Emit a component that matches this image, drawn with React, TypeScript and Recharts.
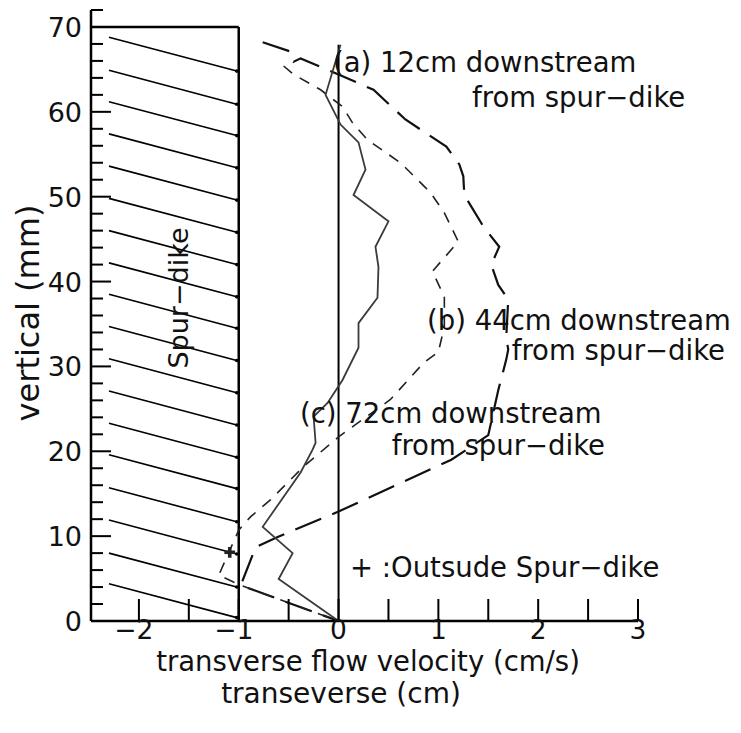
import React from "react";
import {
  ComposedChart,
  Line,
  XAxis,
  YAxis,
  ReferenceLine,
  ReferenceDot,
  Scatter,
} from "recharts";

// ---- tick values ----
const velocityTicks = [-2, -1.5, -1, -0.5, 0, 0.5, 1, 1.5, 2, 2.5, 3];
const velocityLabels = ["−2", "", "−1", "", "0", "", "1", "", "2", "", "3"];
const verticalTicks = [0, 2, 4, 6, 8, 10, 12, 14, 16, 18, 20, 22, 24, 26, 28, 30, 32, 34, 36, 38, 40, 42, 44, 46, 48, 50, 52, 54, 56, 58, 60, 62, 64, 66, 68, 70, 72];
const verticalMajor = [0, 10, 20, 30, 40, 50, 60, 70];

// ---- profile (solid) ----
const solidVel = [0, -0.6, -0.46, -0.76, -0.38, -0.26, -0.23, -0.25, -0.11, 0.04, 0.2, 0.2, 0.39, 0.4, 0.37, 0.5, 0.15, 0.27, 0.2, 0.02, -0.13, 0.02];
const solidZ = [0, 4.95, 8.0, 11.1, 17.5, 20.2, 21.0, 24.1, 25.7, 28.4, 32.2, 35.1, 38.1, 41.7, 44.1, 47.1, 50.2, 53.2, 56.4, 58.5, 62.0, 67.9];

// ---- profile (long dash) ----
const longVel = [-0.76, -0.48, -0.45, -0.38, 0, 0.35, 0.67, 1.08, 1.21, 1.25, 1.26, 1.45, 1.61, 1.53, 1.6, 1.7, 1.68, 1.7, 1.68, 1.6, 1.5, 1.13, 0, -0.61, -0.83, -0.98, 0];
const longZ = [68.2, 67.1, 65.9, 66.3, 64.4, 62.6, 59.1, 55.9, 53.8, 52.4, 50.2, 46.5, 44.1, 42.0, 39.6, 37.9, 33.4, 32.0, 30.8, 27.2, 21.9, 19.0, 12.9, 9.9, 8.7, 4.2, 0];

// ---- profile (short dash) ----
const shortVel = [-0.55, -0.45, -0.18, 0.04, 0.14, 0.29, 0.62, 0.92, 1.06, 1.2, 0.94, 1.06, 1.06, 1.0, 0.85, 0.52, 0, -0.35, -0.68, -0.88, -1.0, -1.08, -1.2, -0.98, 0];
const shortZ = [65.4, 64.4, 62.6, 60.6, 58.7, 56.7, 54.0, 50.5, 48.1, 44.7, 41.2, 38.2, 34.7, 31.7, 30.4, 26.1, 21.7, 18.2, 14.3, 12.3, 10.7, 8.6, 5.4, 4.2, 0];

// ---- outside marker ----
const outsideVel = [-1.09];
const outsideZ = [8.1];

// ---- spur-dike structure ----
const velMin = -2.48;
const dikeFace = -1;
const dikeTop = 70;
const zeroLineTop = 67.9;
const hatchStartVel = -2.3;
const hatchEndVel = -1.02;
const hatchDrop = 4.0;
const hatchStartZ = [68.8, 64.9, 61.2, 57.4, 53.6, 49.8, 46.0, 42.2, 38.5, 34.7, 30.9, 27.1, 23.3, 19.6, 15.7, 11.9, 8.0, 4.4];

const toRows = (xs: number[], ys: number[]) => xs.map((x, i) => ({ x, z: ys[i] }));
const solidData = toRows(solidVel, solidZ);
const longData = toRows(longVel, longZ);
const shortData = toRows(shortVel, shortZ);
const outsideData = toRows(outsideVel, outsideZ);

const FONT = "DejaVu Sans";

const XTick = (props: any) => {
  const { x, y, payload } = props;
  const i = velocityTicks.indexOf(payload.value);
  const label = i >= 0 ? velocityLabels[i] : "";
  return (
    <g>
      <line x1={x} y1={y} x2={x} y2={y - 22} stroke="#000" strokeWidth={2} />
      {label !== "" && (
        <text x={x - (payload.value < 0 ? 5 : 0)} y={y + 18} textAnchor="middle" fontFamily={FONT} fontSize={26.5} fill="#111">
          {label}
        </text>
      )}
    </g>
  );
};

const YTick = (props: any) => {
  const { x, y, payload } = props;
  const major = verticalMajor.includes(payload.value);
  return (
    <g>
      <line x1={x} y1={y} x2={x + (major ? 20 : 12)} y2={y} stroke="#000" strokeWidth={2} />
      {major && (
        <text x={x - 9} y={y + 10} textAnchor="end" fontFamily={FONT} fontSize={27} fill="#111">
          {String(payload.value)}
        </text>
      )}
    </g>
  );
};

export default function App() {
  return (
    <div style={{ position: "absolute", left: 0, top: 0, width: 741, height: 733, background: "#fff" }}>
      <ComposedChart
        width={741}
        height={733}
        margin={{ top: 10, right: 103, bottom: 72, left: 31 }}
      >
        <XAxis
          type="number"
          dataKey="x"
          domain={[velMin, 3]}
          ticks={velocityTicks}
          allowDataOverflow
          height={40}
          tickSize={0}
          tickMargin={0}
          tickLine={false}
          tick={<XTick />}
          axisLine={{ stroke: "#000", strokeWidth: 2.5 }}
          interval={0}
        />
        <YAxis
          type="number"
          dataKey="z"
          domain={[0, 72]}
          ticks={verticalTicks}
          allowDataOverflow
          width={60}
          tickSize={0}
          tickMargin={0}
          tickLine={false}
          tick={<YTick />}
          axisLine={{ stroke: "#000", strokeWidth: 2.5 }}
          interval={0}
        />
        {hatchStartZ.map((z0, i) => (
          <ReferenceLine
            key={"h" + i}
            segment={[{ x: hatchStartVel, y: z0 }, { x: hatchEndVel, y: z0 - hatchDrop }]}
            stroke="#000"
            strokeWidth={1.6}
            ifOverflow="visible"
          />
        ))}
        {hatchStartZ.map((z0, i) => (
          <ReferenceDot
            key={"d" + i}
            x={hatchEndVel}
            y={z0 - hatchDrop}
            r={1.8}
            fill="#000"
            stroke="none"
            ifOverflow="visible"
          />
        ))}
        <ReferenceLine
          segment={[{ x: velMin, y: dikeTop }, { x: dikeFace, y: dikeTop }]}
          stroke="#000"
          strokeWidth={2.5}
          ifOverflow="visible"
        />
        <ReferenceLine
          segment={[{ x: dikeFace, y: 0 }, { x: dikeFace, y: dikeTop }]}
          stroke="#000"
          strokeWidth={2.5}
          ifOverflow="visible"
        />
        <ReferenceLine
          segment={[{ x: 0, y: 0 }, { x: 0, y: zeroLineTop }]}
          stroke="#000"
          strokeWidth={2}
          ifOverflow="visible"
        />
        <Line
          data={longData}
          dataKey="z"
          type="linear"
          stroke="#111"
          strokeWidth={2.2}
          strokeDasharray="28 12"
          dot={false}
          activeDot={false}
          isAnimationActive={false}
        />
        <Line
          data={shortData}
          dataKey="z"
          type="linear"
          stroke="#222"
          strokeWidth={1.6}
          strokeDasharray="11 9"
          dot={false}
          activeDot={false}
          isAnimationActive={false}
        />
        <Line
          data={solidData}
          dataKey="z"
          type="linear"
          stroke="#3a3a3a"
          strokeWidth={1.8}
          dot={false}
          activeDot={false}
          isAnimationActive={false}
        />
        <Scatter
          data={outsideData}
          dataKey="z"
          shape="cross"
          fill="#222"
          isAnimationActive={false}
        />
      </ComposedChart>
      <svg
        width={741}
        height={733}
        style={{ position: "absolute", left: 0, top: 0, pointerEvents: "none" }}
        fontFamily={FONT}
        fill="#111"
      >
        <text x={333} y={72} fontSize={27.5}>(a) 12cm downstream</text>
        <text x={472} y={107} fontSize={27.5}>from spur−dike</text>
        <text x={427} y={330} fontSize={27.5}>(b) 44cm downstream</text>
        <text x={725} y={360} fontSize={27.5} textAnchor="end">from spur−dike</text>
        <text x={300} y={423} fontSize={27.5}>(c) 72cm downstream</text>
        <text x={605} y={455} fontSize={27.5} textAnchor="end">from spur−dike</text>
        <text x={350} y={577} fontSize={27.5}>+ :Outsude Spur−dike</text>
        <text x={188} y={298} fontSize={27} textAnchor="middle" transform="rotate(-90 188 298)">Spur−dike</text>
        <text x={39} y={313} fontSize={32} textAnchor="middle" transform="rotate(-90 39 313)">vertical (mm)</text>
        <text x={368} y={671} fontSize={27.5} textAnchor="middle">transverse flow velocity (cm/s)</text>
        <text x={341} y={703} fontSize={28} textAnchor="middle">transeverse (cm)</text>
      </svg>
    </div>
  );
}
